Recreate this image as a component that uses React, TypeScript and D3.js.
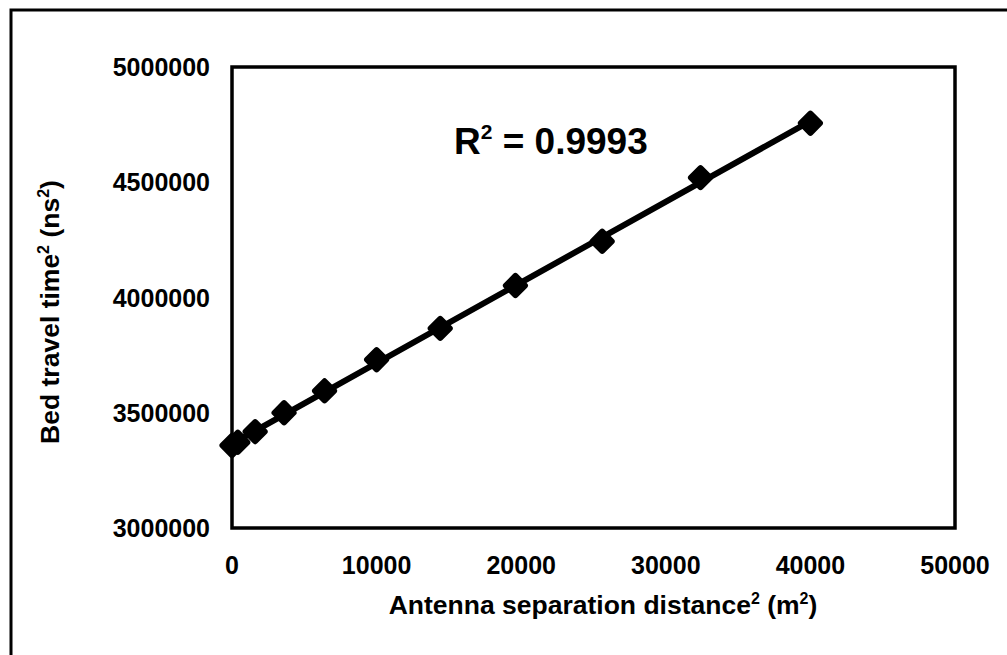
import React from "react";
import * as d3 from "d3";

const distSq = [0, 400, 1600, 3600, 6400, 10000, 14400, 19600, 25600, 32400, 40000];
const travelSq = [3358000, 3372000, 3418000, 3500000, 3595000, 3730000, 3866000, 4052000, 4244000, 4520000, 4756000];
const xTicks = [0, 10000, 20000, 30000, 40000, 50000];
const yTicks = [3000000, 3500000, 4000000, 4500000, 5000000];
const r2Label = "0.9993";

const W = 1007;
const H = 655;
const left = 232, right = 955, top = 67, bottom = 528;

export default function App() {
  const x = d3.scaleLinear().domain([0, 50000]).range([left, right]);
  const y = d3.scaleLinear().domain([3000000, 5000000]).range([bottom, top]);
  const pts = distSq.map((d, i) => [x(d), y(travelSq[i])] as [number, number]);
  const mx = d3.mean(distSq) as number;
  const my = d3.mean(travelSq) as number;
  const slope = (d3.sum(distSq, (d, i) => (d - mx) * (travelSq[i] - my)) as number) /
    (d3.sum(distSq, (d) => (d - mx) * (d - mx)) as number);
  const icpt = my - slope * mx;
  const x0 = d3.min(distSq) as number, x1 = d3.max(distSq) as number;
  const trend = d3.line()([[x(x0), y(icpt + slope * x0)], [x(x1), y(icpt + slope * x1)]]) || "";
  const font = "'Liberation Sans', Arial, Helvetica, sans-serif";
  const s = 19.5;
  return (
    <svg width={W} height={H} style={{ position: "absolute", left: 0, top: 0, background: "#fff" }} fontFamily={font}>
      <rect x={0} y={0} width={W} height={H} fill="#fff" />
      <rect x={11} y={10} width={1020} height={680} fill="none" stroke="#000" strokeWidth={3} />
      <rect x={left} y={top} width={right - left} height={bottom - top} fill="none" stroke="#000" strokeWidth={3.5} />
      {yTicks.map((t) => (
        <text key={t} x={210} y={y(t) + 9} textAnchor="end" fontSize={25} fontWeight="bold">{t}</text>
      ))}
      {xTicks.map((t) => (
        <text key={t} x={x(t)} y={574} textAnchor="middle" fontSize={25} fontWeight="bold">{t}</text>
      ))}
      <path d={trend} fill="none" stroke="#000" strokeWidth={6} strokeLinecap="round" />
      {pts.map(([px, py], i) => (
        <rect key={i} x={px - s / 2} y={py - s / 2} width={s} height={s} rx={3} fill="#000"
          transform={`rotate(45 ${px} ${py})`} />
      ))}
      <text x={454} y={154} textAnchor="start" fontSize={37} fontWeight="bold">
        R<tspan dy={-15} fontSize={21}>2</tspan><tspan dy={15}>{" = " + r2Label}</tspan>
      </text>
      <text x={603} y={614} textAnchor="middle" fontSize={26.5} fontWeight="bold">
        Antenna separation distance<tspan dy={-10} fontSize={16}>2</tspan><tspan dy={10}>{" (m"}</tspan><tspan dy={-10} fontSize={16}>2</tspan><tspan dy={10}>)</tspan>
      </text>
      <text transform={`translate(59, 312) rotate(-90)`} textAnchor="middle" fontSize={26.5} fontWeight="bold">
        Bed travel time<tspan dy={-10} fontSize={16}>2</tspan><tspan dy={10}>{" (ns"}</tspan><tspan dy={-10} fontSize={16}>2</tspan><tspan dy={10}>)</tspan>
      </text>
    </svg>
  );
}
